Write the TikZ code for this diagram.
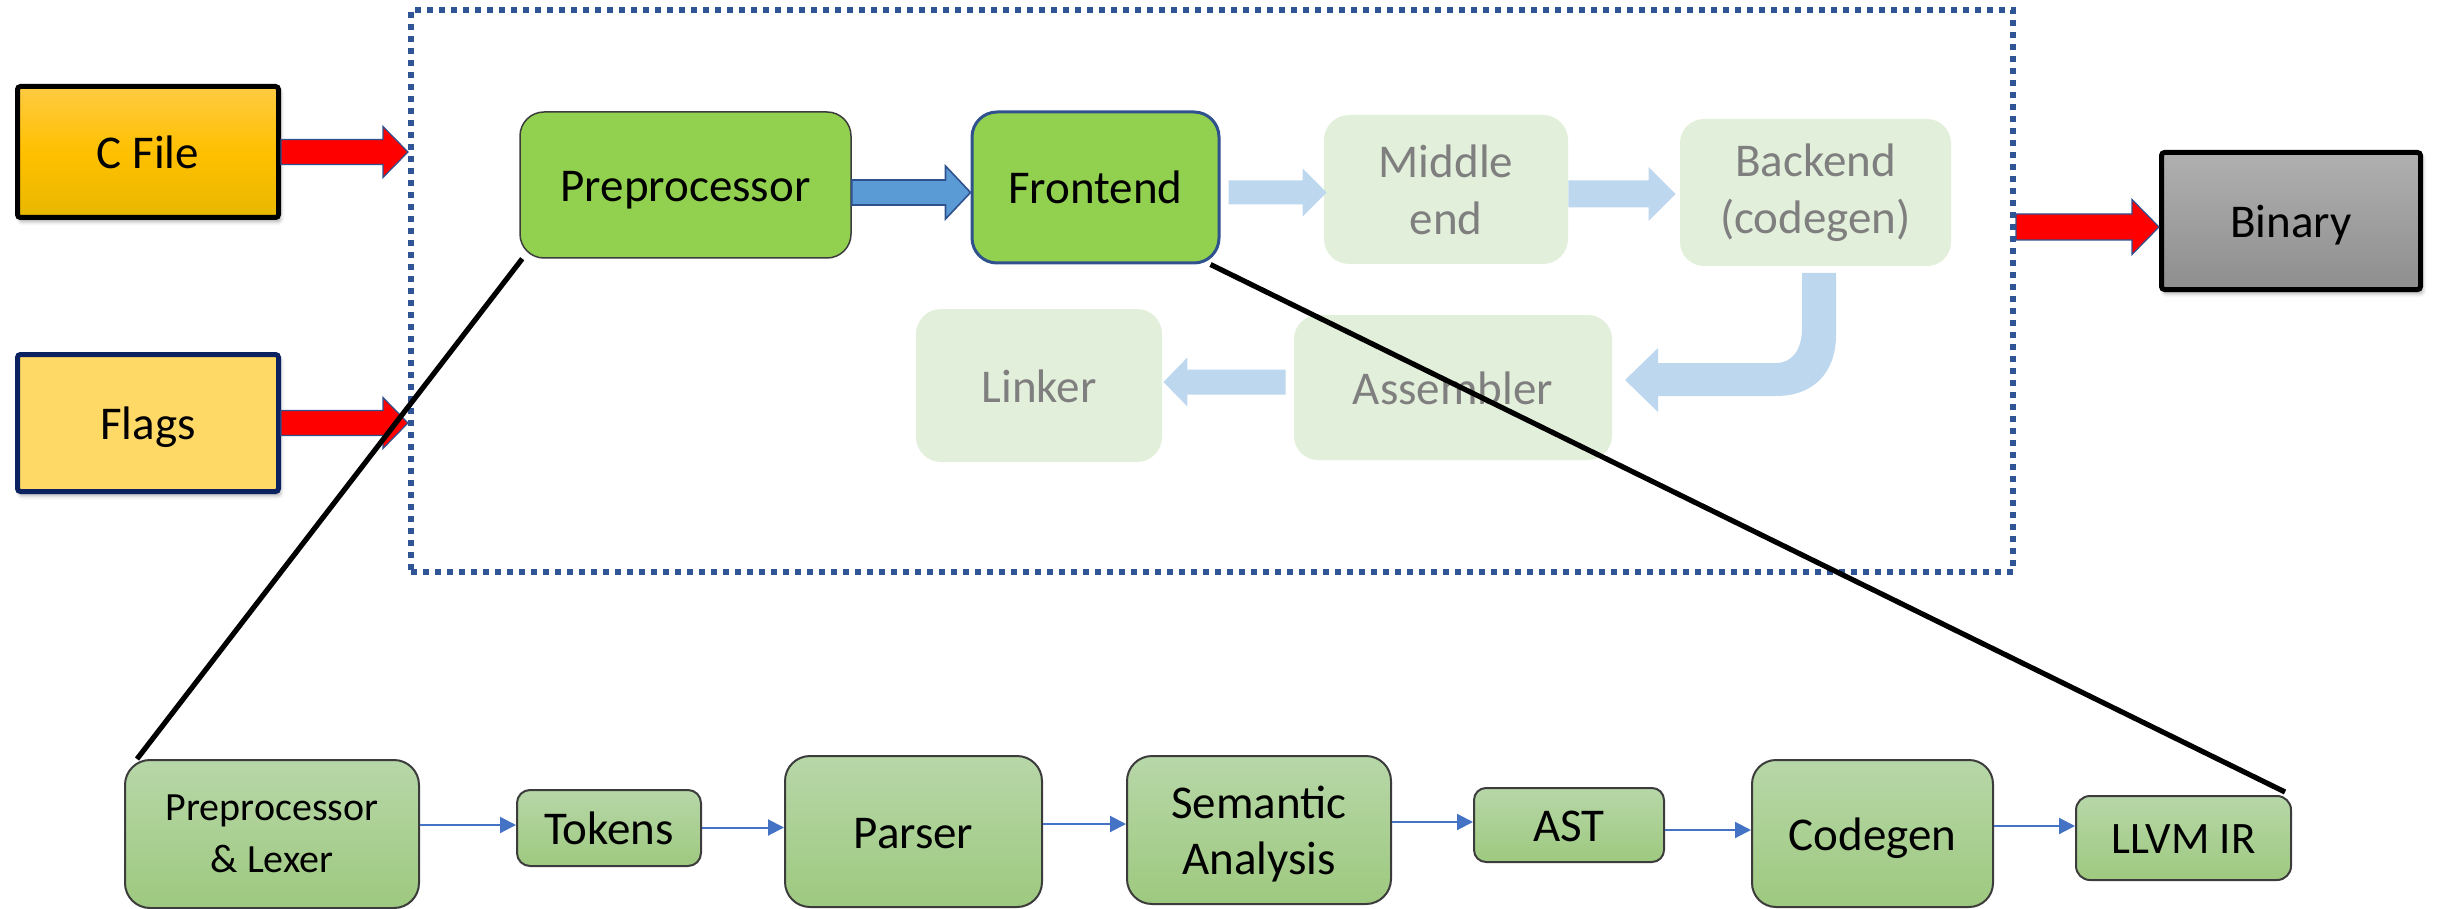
\documentclass[tikz,border=0pt]{standalone}
\usepackage{fontspec}
\setmainfont{Carlito}
\usetikzlibrary{calc,arrows.meta,shadows.blur}

\definecolor{frameblue}{RGB}{47,85,151}
\definecolor{arrowedge}{RGB}{47,82,143}
\definecolor{hotred}{RGB}{255,0,0}
\definecolor{leaf}{RGB}{146,208,80}
\definecolor{paleleaf}{RGB}{226,239,218}
\definecolor{paleblue}{RGB}{189,215,238}
\definecolor{midblue}{RGB}{91,155,213}
\definecolor{fadedtext}{RGB}{127,127,127}
\definecolor{navy}{RGB}{12,34,96}
\definecolor{flowblue}{RGB}{68,114,196}
\definecolor{ambertop}{RGB}{255,203,66}
\definecolor{ambermid}{RGB}{255,192,0}
\definecolor{amberbot}{RGB}{232,184,0}
\definecolor{flagfill}{RGB}{255,217,102}
\definecolor{greytop}{RGB}{176,176,176}
\definecolor{greybot}{RGB}{142,142,142}
\definecolor{sagetop}{RGB}{183,215,168}
\definecolor{sagebot}{RGB}{158,201,127}
\definecolor{boxedge}{RGB}{60,60,60}

% horizontal block arrow: style, start point, tip point,
% shaft half-width, head half-width, head length
\newcommand\blockarrow[6]{%
  \path[#1] let \p1=(#2), \p2=(#3), \n1={sign(\x2-\x1)} in
    (\x1,\y2+#4) -- ({\x2-\n1*#6},\y2+#4) -- ({\x2-\n1*#6},\y2+#5) -- (\x2,\y2)
    -- ({\x2-\n1*#6},\y2-#5) -- ({\x2-\n1*#6},\y2-#4) -- (\x1,\y2-#4) -- cycle;}

\begin{document}
\begin{tikzpicture}[x=0.5pt,y=-0.5pt,
  bigtext/.style={font=\fontsize{23.5}{28.5}\selectfont},
  oneline/.style={text height=16.5pt, text depth=0pt},
  srcbox/.style={draw, line width=2.5pt, rounded corners=1.5pt, inner sep=0pt,
    minimum width=130.5pt, bigtext, oneline,
    blur shadow={shadow xshift=1pt, shadow yshift=-2pt, shadow blur radius=2pt, shadow opacity=35}},
  stage/.style={fill=leaf, inner sep=0pt, bigtext, align=center},
  faded/.style={fill=paleleaf, text=fadedtext, inner sep=0pt, bigtext, align=center},
  substage/.style={draw=boxedge, line width=1pt, top color=sagetop, bottom color=sagebot,
    inner sep=0pt, bigtext, align=center},
  redarrow/.style={fill=hotred, draw=arrowedge, line width=0.6pt},
  bluearrow/.style={fill=midblue, draw=arrowedge, line width=0.8pt},
  palearrow/.style={fill=paleblue},
  flow/.style={draw=flowblue, line width=1pt, -{Triangle[length=8pt,width=8pt]}},
  zoomline/.style={draw=black, line width=2.6pt}
]
\useasboundingbox (0,0) rectangle (2440,909);

% dotted boundary of the compiler
\node[draw=frameblue, line width=3pt, dash pattern=on 3pt off 3pt,
  minimum width=801pt, minimum height=281pt, inner sep=0pt] (frame) at (1212,291) {};

% inputs and output
\node[srcbox, minimum height=65.5pt, top color=ambertop, bottom color=amberbot,
  middle color=ambermid] (cfile) at (148,152) {C File};
\node[srcbox, draw=navy, minimum height=68.5pt, fill=flagfill] (flags) at (148,423) {Flags};
\node[srcbox, minimum width=129.5pt, minimum height=68.5pt, top color=greytop,
  bottom color=greybot] (binary) at (2291,221) {Binary};

\blockarrow{redarrow}{cfile.east}{cfile.east -| frame.west}{6.25pt}{12.75pt}{12.5pt}
\blockarrow{redarrow}{flags.east}{flags.east -| frame.west}{6.25pt}{12.75pt}{12.5pt}
\blockarrow{redarrow}{frame.east}{[yshift=-3pt]binary.west}{6.5pt}{13.75pt}{13.5pt}

% compiler stages
\node[stage, oneline, draw=boxedge, line width=0.75pt, rounded corners=12pt,
  minimum width=165.5pt, minimum height=73pt] (pre) at (685.5,185) {Preprocessor};
\node[stage, oneline, draw=arrowedge, line width=1.5pt, rounded corners=12.5pt,
  minimum width=123.5pt, minimum height=75.5pt] (fe) at (1095.5,187.5) {Frontend};
\node[faded, rounded corners=12.5pt, minimum width=122pt, minimum height=74.5pt]
  (mid) at (1446,189.5) {Middle\\end};
\node[faded, rounded corners=12pt, minimum width=135.5pt, minimum height=73.5pt]
  (back) at (1815.5,192.5) {Backend\\(codegen)};
\node[faded, oneline, rounded corners=12pt, minimum width=159pt, minimum height=72.5pt]
  (asm) at (1453,387.5) {Assembler};
\node[faded, oneline, rounded corners=12.5pt, minimum width=123pt, minimum height=76.5pt]
  (link) at (1039,385.5) {Linker};

\blockarrow{bluearrow}{pre.east}{[yshift=-2.5pt]fe.west}{6.25pt}{13.25pt}{12.5pt}
\blockarrow{palearrow}{[xshift=4pt]fe.east}{[xshift=1.5pt,yshift=-1.5pt]mid.west}{6pt}{12pt}{12pt}
\blockarrow{palearrow}{mid.east}{[xshift=-2pt,yshift=-0.75pt]back.west}{6.75pt}{13.5pt}{13.5pt}
\blockarrow{palearrow}{[xshift=-4pt]asm.west}{[xshift=0.5pt,yshift=1.75pt]link.east}{6.25pt}{12.25pt}{12pt}

% bent arrow from the backend down to the assembler
\fill[paleblue] (1802,273) -- (1836,273) -- (1836,335)
  .. controls (1836,372) and (1814,396) .. (1776,396) -- (1658,396) -- (1658,412)
  -- (1625,380) -- (1658,348) -- (1658,363) -- (1776,363)
  .. controls (1792,363) and (1802,350) .. (1802,328) -- cycle;

% frontend internals
\node[substage, rounded corners=12.5pt, minimum width=147pt, minimum height=74pt,
  font=\fontsize{20}{25.8}\selectfont] (pl) at (272,834) {Preprocessor\\\& Lexer};
\node[substage, oneline, rounded corners=6.5pt, minimum width=92pt, minimum height=38pt]
  (tok) at (609,828) {Tokens};
\node[substage, oneline, rounded corners=12.5pt, minimum width=128.5pt, minimum height=75.5pt]
  (parser) at (913.5,831.5) {Parser};
\node[substage, rounded corners=12.5pt, minimum width=132pt, minimum height=74pt,
  font=\fontsize{23.5}{29}\selectfont] (sem) at (1259,830)
  {\raisebox{-2.5pt}[\height][\depth]{\begin{tabular}{@{}c@{}}Semantic\\[-1pt]Analysis\end{tabular}}};
\node[substage, oneline, rounded corners=6pt, minimum width=95pt, minimum height=37pt]
  (ast) at (1569,825) {AST};
\node[substage, oneline, rounded corners=12pt, minimum width=120.5pt, minimum height=73.5pt]
  (cg) at (1872.5,833.5) {Codegen};
\node[substage, rounded corners=7pt, minimum width=107.5pt, minimum height=42pt,
  text height=15.8pt, text depth=0pt, font=\fontsize{22.5}{27}\selectfont] (llvm) at (2183.5,838) {LLVM IR};

\draw[flow] ([yshift=1.5pt]tok.west -| pl.east) -- ([yshift=1.5pt]tok.west);
\draw[flow] ([yshift=2pt]parser.west -| tok.east) -- ([yshift=2pt]parser.west);
\draw[flow] ([yshift=3pt]sem.west -| parser.east) -- ([yshift=3pt]sem.west);
\draw[flow] ([yshift=1.5pt]ast.west -| sem.east) -- ([yshift=1.5pt]ast.west);
\draw[flow] ([yshift=1.75pt]cg.west -| ast.east) -- ([yshift=1.75pt]cg.west);
\draw[flow] ([yshift=6pt]llvm.west -| cg.east) -- ([yshift=6pt]llvm.west);

% zoom lines from the top stages to their expansion
\draw[zoomline] ([xshift=1.5pt]pre.south west) -- ([xshift=6.5pt]pl.north west);
\draw[zoomline] ([xshift=-5pt]fe.south east) -- ([xshift=-3.5pt,yshift=1.5pt]llvm.north east);
\end{tikzpicture}
\end{document}
